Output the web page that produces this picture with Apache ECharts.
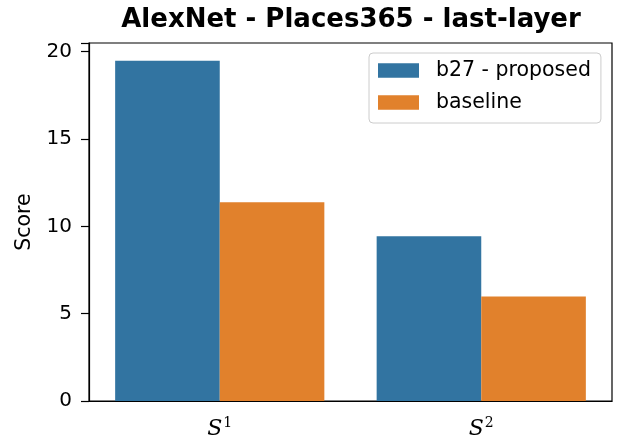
<!DOCTYPE html>
<html>
<head>
<meta charset="utf-8">
<script src="https://cdn.jsdelivr.net/npm/echarts@6/dist/echarts.min.js"></script>
<style>
  html, body { margin: 0; padding: 0; background: #fff; }
  #chart { width: 618px; height: 441px; }
</style>
</head>
<body>
<div id="chart"></div>
<script>
// Scores per metric for the two methods
const categories = ['S1', 'S2'];
const categorySup = ['1', '2'];
const proposed = [19.49, 9.43];
const baseline = [11.38, 5.98];
const yTicks = [0, 5, 10, 15, 20];

const FONT = '"DejaVu Sans", sans-serif';
const chart = echarts.init(document.getElementById('chart'), null, { renderer: 'canvas' });

chart.setOption({
  animation: false,
  backgroundColor: '#ffffff',
  title: {
    text: 'AlexNet - Places365 - last-layer',
    left: 346,
    textAlign: 'center',
    top: 0,
    textStyle: { fontFamily: FONT, fontSize: 26, fontWeight: 'bold', color: '#000', lineHeight: 30 }
  },
  legend: {
    orient: 'vertical',
    left: 369,
    top: 53,
    itemWidth: 41,
    itemHeight: 14.5,
    itemGap: 11,
    padding: [7, 10, 10, 9],
    borderColor: '#cccccc',
    borderWidth: 1,
    borderRadius: 4,
    backgroundColor: '#ffffff',
    icon: 'rect',
    textStyle: { fontFamily: FONT, fontSize: 20.5, lineHeight: 20, color: '#000', padding: [0, 0, 0, 12] },
    data: ['b27 - proposed', 'baseline']
  },
  grid: {
    left: 89, right: 6, top: 43, bottom: 40,
    containLabel: false,
    outerBoundsMode: 'none',
    show: true, borderColor: '#000', borderWidth: 1.2, backgroundColor: 'transparent'
  },
  xAxis: {
    type: 'category',
    data: categories,
    axisLine: { lineStyle: { color: '#000', width: 1.2 } },
    axisTick: { alignWithLabel: true, length: 7, lineStyle: { color: '#000', width: 1.2 } },
    axisLabel: {
      margin: 17,
      formatter: (v, i) => '{s|S}{sup|' + categorySup[i] + '}',
      rich: {
        s: { fontFamily: '"DejaVu Serif", serif', fontStyle: 'italic', fontSize: 22, color: '#000', lineHeight: 22 },
        sup: { fontFamily: '"DejaVu Serif", serif', fontSize: 14, color: '#000', lineHeight: 22, padding: [0, 0, 11, 1] }
      }
    }
  },
  yAxis: {
    type: 'value',
    min: 0,
    max: 20.5,
    interval: 5,
    name: 'Score',
    nameLocation: 'middle',
    nameGap: 53,
    nameTextStyle: { fontFamily: FONT, fontSize: 20.5, color: '#000' },
    splitLine: { show: false },
    axisLine: { show: true, lineStyle: { color: '#000', width: 1.2 } },
    axisTick: { show: true, length: 8, lineStyle: { color: '#000', width: 1.2 } },
    axisLabel: {
      fontFamily: FONT, fontSize: 20, color: '#000', margin: 17,
      formatter: v => (yTicks.includes(v) ? String(v) : '')
    }
  },
  series: [
    {
      name: 'b27 - proposed',
      type: 'bar',
      data: proposed,
      barGap: '0%',
      barCategoryGap: '20%',
      itemStyle: { color: '#3274a1' }
    },
    {
      name: 'baseline',
      type: 'bar',
      data: baseline,
      barGap: '0%',
      barCategoryGap: '20%',
      itemStyle: { color: '#e1812c' }
    }
  ]
});
</script>
</body>
</html>
